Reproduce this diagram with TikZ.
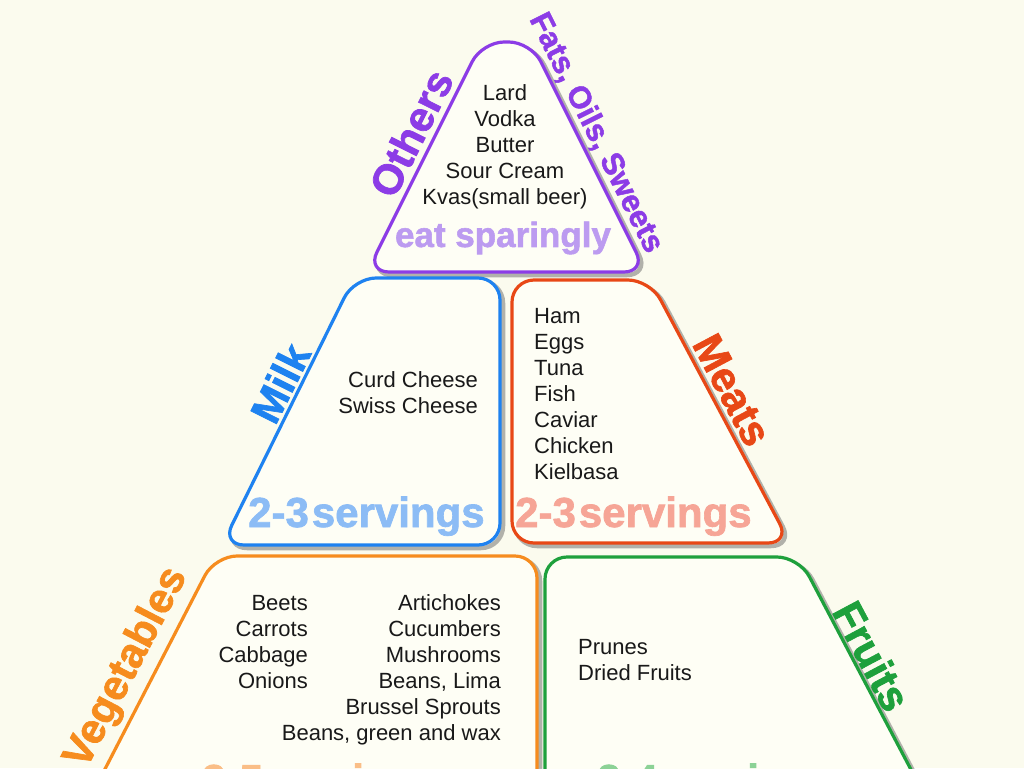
\documentclass[tikz,border=0pt]{standalone}
\usepackage{fontspec}
\setmainfont{Liberation Sans}
\newfontface\heavyfont{Liberation Sans Bold}[FakeBold=1.6]
\definecolor{bgc}{RGB}{251,251,238}
\definecolor{innerc}{RGB}{254,254,245}
\definecolor{purp}{RGB}{140,60,230}
\definecolor{purpl}{RGB}{188,155,240}
\definecolor{bluec}{RGB}{30,130,240}
\definecolor{bluel}{RGB}{140,188,245}
\definecolor{redc}{RGB}{232,72,22}
\definecolor{redl}{RGB}{246,165,150}
\definecolor{orac}{RGB}{246,140,30}
\definecolor{oral}{RGB}{250,190,135}
\definecolor{grnc}{RGB}{30,160,60}
\definecolor{grnl}{RGB}{140,210,150}
\begin{document}
\begin{tikzpicture}[x=1pt,y=-1pt,
  body/.style={inner sep=0pt, font=\fontsize{22}{26}\selectfont, text=black!90},
  lbl/.style={inner sep=0pt, font=\heavyfont\fontsize{42}{42}\selectfont},
  serv/.style={inner sep=0pt, anchor=base west, font=\heavyfont\fontsize{42}{42}\selectfont},
  outline/.style={line width=3.2pt, rounded corners=22pt, fill=innerc, line join=round},
  shade/.style={line width=4.5pt, rounded corners=22pt, draw=black!65, opacity=0.45, line join=round},
]
\clip (0,0) rectangle (1024,768);
\fill[bgc] (0,0) rectangle (1024,768);

% shadows
\draw[shade, shift={(3,3)}] (367,272) -- (482,42) -- (531,42) -- (646,272) -- cycle;
\draw[shade, shift={(3,3)}] (222,545) -- (354,278) -- (500,278) -- (500,545) -- cycle;
\draw[shade, shift={(3,3)}] (512,543) -- (512,280) -- (650,280) -- (790,543) -- cycle;
\draw[shade, shift={(3,3)}] (89,800) -- (215,556) -- (537,556) -- (537,800) -- cycle;
\draw[shade, shift={(3,3)}] (545,800) -- (545,557) -- (799,557) -- (927,800) -- cycle;

% shapes
\draw[outline, draw=purp] (367,272) -- (482,42) -- (531,42) -- (646,272) -- cycle;
\draw[outline, draw=bluec] (222,545) -- (354,278) -- (500,278) -- (500,545) -- cycle;
\draw[outline, draw=redc] (512,543) -- (512,280) -- (650,280) -- (790,543) -- cycle;
\draw[outline, draw=orac] (89,800) -- (215,556) -- (537,556) -- (537,800) -- cycle;
\draw[outline, draw=grnc] (545,800) -- (545,557) -- (799,557) -- (927,800) -- cycle;

% labels
\node[lbl, text=purp, rotate=63.4] (others) at (411,133) {Others};
\node[lbl, text=purp, rotate=-63.4, font=\heavyfont\fontsize{31}{31}\selectfont] (fats) at (596,133) {Fats, Oils, Sweets};
\node[lbl, text=purpl, font=\heavyfont\fontsize{35}{35}\selectfont] (eat) at (503,238) {eat sparingly};
\node[lbl, text=bluec, rotate=63.4] (milk) at (280,383) {Milk};
\node[lbl, text=redc, rotate=-62] (meats) at (732,390) {Meats};
\node[lbl, text=orac, rotate=62.5] (veg) at (127,668) {Vegetables};
\node[lbl, text=grnc, rotate=-62] (fruits) at (872,656) {Fruits};

% servings
\node[serv, text=bluel] (milkserv) at (248,527) {2-3\kern3pt servings};
\node[serv, text=redl] (meatserv) at (515,527) {2-3\kern3pt servings};
\node[serv, text=oral] (vegserv) at (202,794) {3-5\kern3pt servings};
\node[serv, text=grnl] (fruitserv) at (597,794) {2-4\kern3pt servings};

% lists
\node[body, align=center] (others list) at (505,147) {Lard\\Vodka\\Butter\\Sour Cream\\Kvas(small beer)};
\node[body, align=right, anchor=east] (milk list) at (478,393) {Curd Cheese\\Swiss Cheese};
\node[body, align=left, anchor=west] (meat list) at (534,394) {Ham\\Eggs\\Tuna\\Fish\\Caviar\\Chicken\\Kielbasa};
\node[body, align=right, anchor=east] (veg list a) at (308,642) {Beets\\Carrots\\Cabbage\\Onions};
\node[body, align=right, anchor=east] (veg list b) at (501,670) {Artichokes\\Cucumbers\\Mushrooms\\Beans, Lima\\Brussel Sprouts\\Beans, green and wax};
\node[body, align=left, anchor=west] (fruit list) at (578,660) {Prunes\\Dried Fruits};
\end{tikzpicture}
\end{document}
